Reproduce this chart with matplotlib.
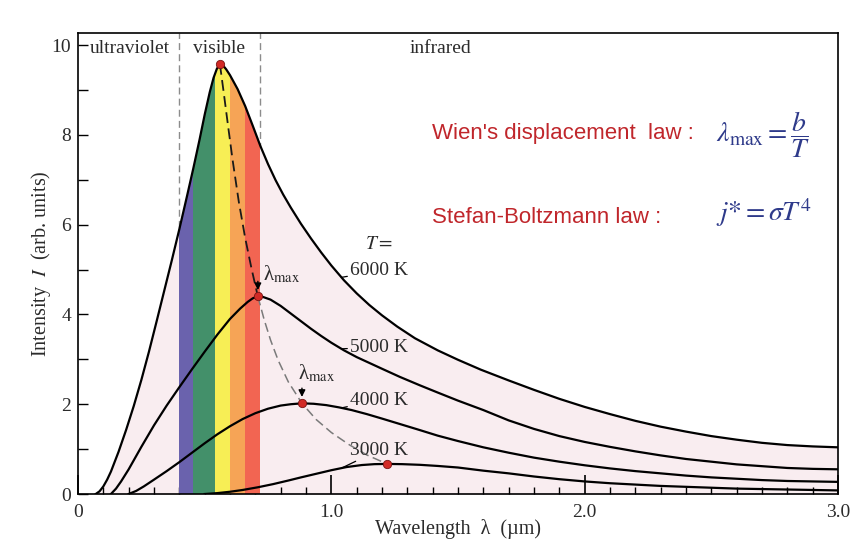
import numpy as np
import matplotlib
matplotlib.use("Agg")
import matplotlib.pyplot as plt
from matplotlib.ticker import MultipleLocator, FixedLocator

plt.rcParams['font.family'] = ['Liberation Serif', 'DejaVu Serif']
plt.rcParams['mathtext.fontset'] = 'stix'

# blackbody curves, wavelength in um, intensity in arb. units
wl_6000 = [0.07, 0.085, 0.10, 0.115, 0.13, 0.16, 0.19, 0.22, 0.25, 0.28, 0.31, 0.34, 0.37, 0.40,
           0.43, 0.455, 0.48, 0.50, 0.52, 0.535, 0.548, 0.56, 0.572, 0.585, 0.60, 0.63, 0.66,
           0.69, 0.72, 0.75, 0.78, 0.81, 0.84, 0.88, 0.92, 0.96, 1.00, 1.05, 1.10, 1.15, 1.20,
           1.26, 1.33, 1.42, 1.50, 1.59, 1.70, 1.80, 1.90, 2.00, 2.10, 2.20, 2.30, 2.40, 2.50,
           2.60, 2.70, 2.80, 2.90, 3.00]
I_6000 = [0.0, 0.06, 0.17, 0.32, 0.5, 0.94, 1.43, 1.96, 2.54, 3.17, 3.84, 4.52, 5.2, 5.9,
          6.63, 7.25, 7.9, 8.45, 8.95, 9.27, 9.47, 9.58, 9.55, 9.46, 9.33, 9.02, 8.64,
          8.2, 7.75, 7.35, 6.99, 6.67, 6.38, 6.02, 5.69, 5.38, 5.09, 4.76, 4.47, 4.21, 3.98,
          3.73, 3.47, 3.2, 2.99, 2.77, 2.53, 2.32, 2.12, 1.94, 1.78, 1.63, 1.5, 1.39, 1.29,
          1.21, 1.14, 1.09, 1.06, 1.04]

wl_5000 = [0.13, 0.15, 0.17, 0.20, 0.25, 0.30, 0.35, 0.40, 0.45, 0.50, 0.55, 0.60, 0.64, 0.67,
           0.69, 0.71, 0.73, 0.76, 0.80, 0.84, 0.88, 0.92, 0.96, 1.00, 1.05, 1.10, 1.15, 1.20,
           1.27, 1.35, 1.42, 1.50, 1.60, 1.70, 1.80, 1.90, 2.00, 2.10, 2.20, 2.30, 2.40, 2.50,
           2.60, 2.70, 2.80, 2.90, 3.00]
I_5000 = [0.0, 0.12, 0.28, 0.55, 1.05, 1.53, 1.97, 2.38, 2.78, 3.17, 3.55, 3.9, 4.13, 4.28,
          4.36, 4.4, 4.39, 4.33, 4.19, 4.02, 3.85, 3.68, 3.52, 3.37, 3.2, 3.05, 2.92, 2.79,
          2.61, 2.42, 2.26, 2.08, 1.87, 1.64, 1.45, 1.29, 1.16, 1.05, 0.95, 0.86, 0.78, 0.72,
          0.66, 0.62, 0.58, 0.56, 0.55]

wl_4000 = [0.20, 0.23, 0.26, 0.30, 0.35, 0.40, 0.45, 0.50, 0.55, 0.60, 0.65, 0.70, 0.75, 0.80,
           0.84, 0.884, 0.93, 0.98, 1.03, 1.08, 1.14, 1.20, 1.27, 1.34, 1.42, 1.50, 1.60, 1.70,
           1.80, 1.90, 2.00, 2.10, 2.20, 2.30, 2.40, 2.50, 2.60, 2.70, 2.80, 2.90, 3.00]
I_4000 = [0.0, 0.07, 0.17, 0.32, 0.51, 0.71, 0.92, 1.13, 1.33, 1.51, 1.67, 1.8, 1.9, 1.97,
          2.0, 2.02, 2.01, 1.98, 1.93, 1.87, 1.78, 1.68, 1.56, 1.44, 1.3, 1.18, 1.04, 0.92,
          0.81, 0.72, 0.64, 0.57, 0.51, 0.46, 0.41, 0.37, 0.34, 0.31, 0.29, 0.28, 0.27]

wl_3000 = [0.50, 0.55, 0.60, 0.65, 0.71, 0.77, 0.83, 0.88, 0.94, 1.00, 1.06, 1.12, 1.17, 1.22,
           1.28, 1.35, 1.42, 1.50, 1.60, 1.70, 1.80, 1.90, 2.00, 2.10, 2.20, 2.30, 2.40, 2.50,
           2.60, 2.70, 2.80, 2.90, 3.00]
I_3000 = [0.0, 0.02, 0.05, 0.09, 0.15, 0.22, 0.3, 0.37, 0.45, 0.53, 0.6, 0.645, 0.665, 0.67,
          0.665, 0.65, 0.625, 0.59, 0.52, 0.46, 0.39, 0.33, 0.28, 0.24, 0.21, 0.18, 0.16, 0.14,
          0.12, 0.11, 0.1, 0.09, 0.08]

temps = ['6000 K', '5000 K', '4000 K', '3000 K']
peak_wl = [0.56, 0.71, 0.884, 1.22]
peak_I = [9.58, 4.4, 2.02, 0.67]

# path of lambda_max through the peaks
locus_wl = [0.56, 0.575, 0.59, 0.61, 0.635, 0.66, 0.685, 0.71, 0.735, 0.76, 0.79, 0.83,
            0.884, 0.94, 1.00, 1.07, 1.14, 1.22]
locus_I = [9.58, 8.95, 8.3, 7.45, 6.5, 5.7, 5.02, 4.4, 3.88, 3.43, 2.98, 2.5,
           2.02, 1.66, 1.37, 1.1, 0.87, 0.67]

band_edges = [0.40, 0.455, 0.54, 0.60, 0.66, 0.72]
band_colors = ['#6A62AD', '#43906A', '#F7EE55', '#F6A456', '#F26552']

fig = plt.figure(figsize=(8.63, 5.57), dpi=100)
ax = fig.add_axes([0.0904, 0.1131, 0.8806, 0.8277])

txt = '#2b2b2b'

for xv in (band_edges[0], band_edges[-1]):
    ax.axvline(xv, color='#8c8c8c', lw=1.0, ls=(0, (5, 3)), zorder=0.5)

fill = ax.fill_between(wl_6000, I_6000, 0, color='#F9EDF0', lw=0, zorder=1)
clip = fill.get_paths()[0]
for (a, b), c in zip(zip(band_edges[:-1], band_edges[1:]), band_colors):
    r = ax.axvspan(a, b, color=c, lw=0, zorder=2)
    r.set_clip_path(clip, ax.transData)

curves = [(wl_6000, I_6000), (wl_5000, I_5000), (wl_4000, I_4000), (wl_3000, I_3000)]
for wl, I in curves:
    ax.plot(wl, I, color='k', lw=1.6, zorder=4, solid_joinstyle='round')

k = locus_wl.index(peak_wl[1])
ax.plot(locus_wl[:k + 1], locus_I[:k + 1], color='#1a1a1a', lw=1.3, ls=(0, (6, 3)), zorder=3)
ax.plot(locus_wl[k:], locus_I[k:], color='#7a7a7a', lw=1.1, ls=(0, (6, 3)), zorder=3)

ax.plot(peak_wl, peak_I, 'o', ms=6, mfc='#D22A26', mec='#7a1414', mew=0.6, zorder=6)

# lambda_max arrows
for i, (dx, dy) in zip((1, 2), ((0.73, 4.88), (0.869, 2.69))):
    ax.annotate('', xy=(peak_wl[i], peak_I[i] + 0.08), xytext=(peak_wl[i], peak_I[i] + 0.4),
                arrowprops=dict(arrowstyle='-|>', color='k', lw=1.0, mutation_scale=10), zorder=7)
    ax.text(dx, dy, r'λ$_{\mathrm{max}}$', fontsize=15, color=txt, va='center', ha='left')

# temperature labels with short leader lines
lab_y = [4.97, 3.27, 2.09, 0.98]
for (wl, I), name, ly in zip(curves, temps, lab_y):
    ax.annotate(name, xy=(1.04, np.interp(1.04, wl, I)), xytext=(1.074, ly),
                fontsize=14, color=txt, va='center', ha='left',
                arrowprops=dict(arrowstyle='-', color='k', lw=0.9, shrinkA=0, shrinkB=0))
ax.text(1.19, 5.55, r'$T=$', fontsize=14, color=txt, ha='center', va='center')

ax.text(0.205, 9.93, 'ultraviolet', fontsize=14, color=txt, ha='center', va='center')
ax.text(0.557, 9.93, 'visible', fontsize=14, color=txt, ha='center', va='center')
ax.text(1.43, 9.93, 'infrared', fontsize=14, color=txt, ha='center', va='center')

red = '#C0262B'
navy = '#2E3A8A'
ax.text(1.398, 8.04, "Wien's displacement  law :", fontsize=16, color=red,
        family='Liberation Sans', va='center', ha='left')
ax.text(1.398, 6.17, 'Stefan-Boltzmann law :', fontsize=16, color=red,
        family='Liberation Sans', va='center', ha='left')
ax.text(2.52, 8.0, r'$\lambda_{\mathrm{max}}=\dfrac{b}{T}$', fontsize=20, color=navy,
        va='center', ha='left')
ax.text(2.52, 6.26, r'$j{*}=\sigma T^{4}$', fontsize=20, color=navy, va='center', ha='left')

ax.set_xlim(0, 3)
ax.set_ylim(0, 10.27)
ax.xaxis.set_major_locator(FixedLocator([0, 1, 2, 3]))
ax.set_xticklabels(['0', '1.0', '2.0', '3.0'])
ax.xaxis.set_minor_locator(MultipleLocator(0.1))
ax.yaxis.set_major_locator(MultipleLocator(2))
ax.yaxis.set_minor_locator(MultipleLocator(1))
ax.tick_params(which='both', direction='in', top=False, right=False, colors='k',
               labelcolor=txt, labelsize=14)
ax.tick_params(axis='x', which='major', length=13.5, width=1.2, pad=7)
ax.tick_params(axis='x', which='minor', length=5, width=1.0)
ax.tick_params(axis='y', which='both', length=7, width=1.0, pad=5)

mid = ax.secondary_xaxis('bottom')
mid.set_xticks([0.5, 1.5, 2.5])
mid.tick_params(direction='in', length=11, width=1.2, labelbottom=False)
mid.spines['bottom'].set_visible(False)

for s in ax.spines.values():
    s.set_linewidth(1.2)

ax.set_xlabel('Wavelength  λ  (µm)', fontsize=14.5, color=txt, labelpad=-1)
ax.set_ylabel('Intensity  $I$  (arb. units)', fontsize=14.5, color=txt, labelpad=-1)

fig.savefig('out.png', dpi=100)
